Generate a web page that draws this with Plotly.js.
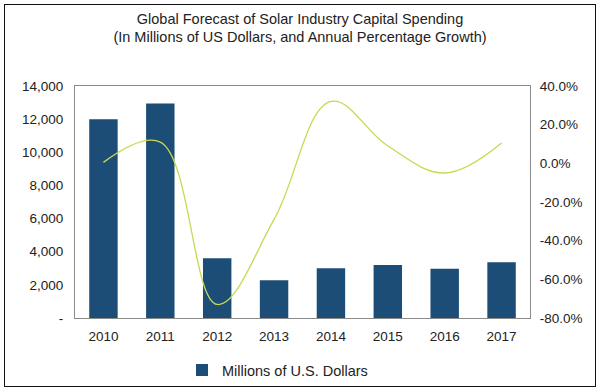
<!DOCTYPE html>
<html><head><meta charset="utf-8">
<script src="https://cdn.plot.ly/plotly-3.0.1.min.js"></script>
<style>
html,body{margin:0;padding:0;background:#fff;}
#wrap{position:relative;width:600px;height:392px;}
#chart{position:absolute;left:0;top:0;width:600px;height:392px;}
#frame{position:absolute;left:4px;top:4px;width:590px;height:381px;border:1.5px solid #111;pointer-events:none;}
</style></head>
<body>
<div id="wrap"><div id="chart"></div><div id="frame"></div></div>
<script>
const years = ['2010','2011','2012','2013','2014','2015','2016','2017'];
const spending = [12000, 12950, 3600, 2280, 3000, 3200, 2970, 3360];
const growthPct = [0.5, 11, -73, -29, 32, 9, -5, 10.5];
const leftTickVals = [0, 2000, 4000, 6000, 8000, 10000, 12000, 14000];
const leftTickText = ['-', '2,000', '4,000', '6,000', '8,000', '10,000', '12,000', '14,000'];
const rightTickVals = [-80, -60, -40, -20, 0, 20, 40];
const rightTickText = ['-80.0%', '-60.0%', '-40.0%', '-20.0%', '0.0%', '20.0%', '40.0%'];

const font = {family: 'Liberation Sans, Arial, sans-serif', size: 13.5, color: '#222'};
const traces = [
  {type: 'bar', x: years, y: spending, name: 'Millions of U.S. Dollars',
   marker: {color: '#1b4d77'}, width: 0.5, yaxis: 'y'},
  {type: 'scatter', mode: 'lines', x: years, y: growthPct, yaxis: 'y2', showlegend: false,
   line: {color: '#c8d850', width: 1.3, shape: 'spline', smoothing: 1.1}}
];
const layout = {
  width: 600, height: 392,
  margin: {l: 75, r: 70, t: 86, b: 74},
  paper_bgcolor: '#fff', plot_bgcolor: '#fff',
  font: font,
  title: {text: 'Global Forecast of Solar Industry Capital Spending<br>(In Millions of US Dollars, and Annual Percentage Growth)',
          x: 0.5, xanchor: 'center', yref: 'container', y: 0.94, yanchor: 'top',
          font: {family: 'Liberation Sans, Arial, sans-serif', size: 14.5, color: '#222'}},
  xaxis: {type: 'category', tickvals: years, showline: true, mirror: true, linecolor: '#8a8a8a', linewidth: 1, showgrid: false,
          ticks: 'outside', ticklen: 6, tickcolor: 'rgba(0,0,0,0)', fixedrange: true, automargin: false},
  yaxis: {range: [0, 14000], tickvals: leftTickVals, ticktext: leftTickText, showgrid: false, zeroline: false,
          showline: true, linecolor: '#8a8a8a', ticks: 'outside', ticklen: 8, tickcolor: 'rgba(0,0,0,0)', automargin: false},
  yaxis2: {range: [-80, 40], tickvals: rightTickVals, ticktext: rightTickText, overlaying: 'y', side: 'right',
           showgrid: false, zeroline: false, showline: true, linecolor: '#8a8a8a',
           ticks: 'outside', ticklen: 6, tickcolor: 'rgba(0,0,0,0)', automargin: false},
  legend: {orientation: 'h', x: 0.445, xanchor: 'center', yref: 'container', y: 0.056, yanchor: 'middle',
           bgcolor: 'rgba(0,0,0,0)', font: {size: 14.5}},
  showlegend: true
};
Plotly.newPlot('chart', traces, layout, {displayModeBar: false, staticPlot: true});
</script>
</body></html>
